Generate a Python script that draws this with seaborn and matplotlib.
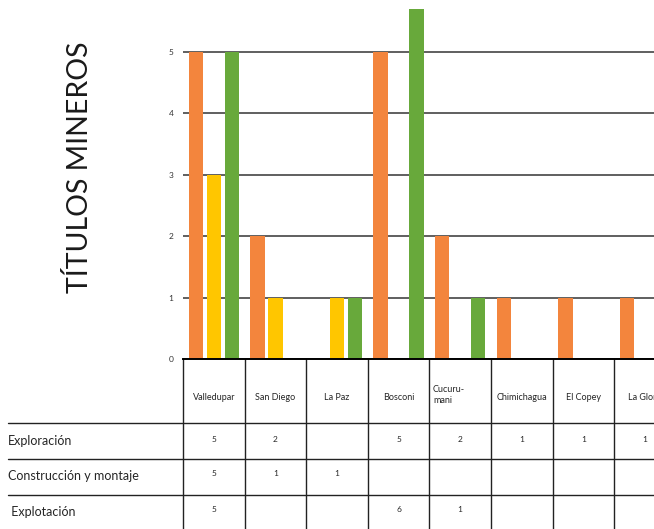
import pandas as pd
import seaborn as sns
import matplotlib.pyplot as plt
import matplotlib.transforms as mtransforms

# datos
municipios = ['Valledupar', 'San Diego', 'La Paz', 'Bosconi', 'Cucuru-\nmani',
              'Chimichagua', 'El Copey', 'La Gloria']
fases = ['Exploración', 'Construcción y montaje', 'Explotación']
exploracion = [5, 2, 0, 5, 2, 1, 1, 1]
construccion = [3, 1, 1, 0, 0, 0, 0, 0]
explotacion = [5, 0, 1, 6, 1, 0, 0, 0]

# texto de la tabla (tal como aparece)
tabla_exploracion = ['5', '2', '', '5', '2', '1', '1', '1']
tabla_construccion = ['5', '1', '1', '', '', '', '', '']
tabla_explotacion = ['5', '', '', '6', '1', '', '', '']

colores = ['#F3853D', '#FFC600', '#68A93B']

df = pd.DataFrame({
    'municipio': municipios * 3,
    'fase': [fases[0]] * 8 + [fases[1]] * 8 + [fases[2]] * 8,
    'titulos': exploracion + construccion + explotacion,
})

sns.set_theme(style='white')
plt.rcParams['font.family'] = ['Lato', 'DejaVu Sans']

fig = plt.figure(figsize=(6.54, 5.29), dpi=100)
W, H = 654, 529
x0, base, top = 183, 359, 9
colw = 61.6
ax = fig.add_axes([x0 / W, 1 - base / H, 8 * colw / W, (base - top) / H])

sns.barplot(data=df, x='municipio', y='titulos', hue='fase', palette=colores,
            width=0.88, gap=0.2, saturation=1, errorbar=None, legend=False,
            linewidth=0, ax=ax)

ax.set_xlim(-0.5, 7.5)
ax.set_ylim(0, 5.7)
ax.set_yticks(range(6))
ax.yaxis.grid(True, color='#444444', lw=1.2)
ax.set_axisbelow(True)
ax.tick_params(axis='y', length=0, pad=7, labelsize=6, labelcolor='#333333')
ax.set_xticks([])
ax.set_xlabel('')
ax.set_ylabel('TÍTULOS MINEROS', fontsize=20.5, color='#1a1a1a')
ax.yaxis.set_label_coords((93 - x0) / (8 * colw), (base - 167) / (base - top))
for s in ['left', 'right', 'top']:
    ax.spines[s].set_visible(False)
ax.spines['bottom'].set_color('black')
ax.spines['bottom'].set_linewidth(1.4)

# tabla debajo del grafico
tr = mtransforms.blended_transform_factory(ax.transData, fig.transFigure)
fy = lambda px: 1 - px / H

for i in range(9):
    ax.plot([i - 0.5, i - 0.5], [fy(base), 0], transform=tr, color='#222222',
            lw=1, clip_on=False)
for yp in [423, 459, 495]:
    fig.add_artist(plt.Line2D([8 / W, 1], [fy(yp), fy(yp)], color='#222222', lw=1))

for i, m in enumerate(municipios):
    if '\n' in m:
        ax.text(i - 0.44, fy(395), m, transform=tr, ha='left', va='center',
                fontsize=6.5, linespacing=1.3, clip_on=False)
    else:
        ax.text(i, fy(397), m, transform=tr, ha='center', va='center',
                fontsize=6.5, clip_on=False)

filas = [('Exploración', tabla_exploracion, 441, 8),
         ('Construcción y montaje', tabla_construccion, 476, 8),
         (' Explotación', tabla_explotacion, 512, 8)]
for etiqueta, valores, yp, xp in filas:
    fig.text(xp / W, fy(yp), etiqueta, ha='left', va='center', fontsize=9)
    for i, v in enumerate(valores):
        ax.text(i, fy(yp - 2), v, transform=tr, ha='center', va='center',
                fontsize=6, clip_on=False)

fig.savefig('out.png', dpi=100)
